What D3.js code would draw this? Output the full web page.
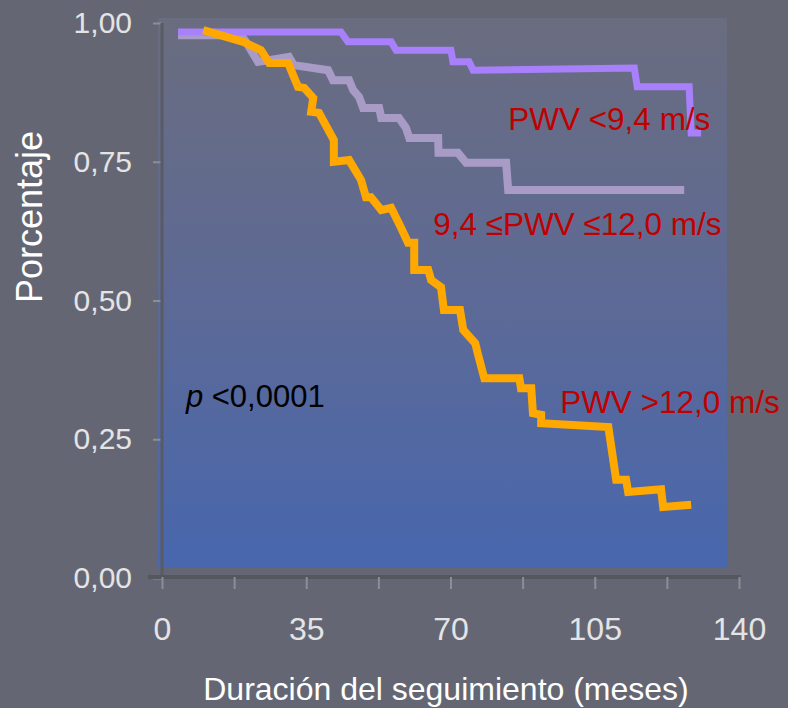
<!DOCTYPE html>
<html>
<head>
<meta charset="utf-8">
<script src="https://cdn.jsdelivr.net/npm/d3@7"></script>
<style>
  html, body { margin: 0; padding: 0; background: #646773; }
  svg { display: block; font-family: "Liberation Sans", Arial, sans-serif; }
</style>
</head>
<body>
<div id="chart"></div>
<script>
// survival curves, [month, proportion]
var lowPwv = [[3.9, 0.984], [43.4, 0.984], [45.1, 0.966], [55.6, 0.966], [56.8, 0.951], [70.1, 0.951],
    [70.6, 0.930], [74.5, 0.930], [75.5, 0.915], [114.6, 0.919], [115.3, 0.885], [127.9, 0.885],
    [128.4, 0.802], [130.8, 0.802]];

var midPwv = [[3.9, 0.978], [19.2, 0.978], [20.4, 0.966], [23.3, 0.930], [30.8, 0.939], [32.0, 0.924],
    [40.3, 0.915], [41.5, 0.897], [45.4, 0.897], [46.4, 0.879], [47.8, 0.867], [48.8, 0.847],
    [52.7, 0.847], [53.2, 0.829], [57.5, 0.829], [59.2, 0.811], [60.0, 0.793], [67.0, 0.793],
    [67.1, 0.766], [71.8, 0.766], [73.8, 0.748], [83.5, 0.748], [84.0, 0.699], [126.7, 0.699]];

var highPwv = [[10.0, 0.987], [19.7, 0.966], [24.0, 0.951], [26.0, 0.928], [30.6, 0.928], [33.0, 0.885],
    [34.5, 0.883], [36.7, 0.865], [36.2, 0.840], [38.1, 0.838], [41.7, 0.789], [41.7, 0.750],
    [45.4, 0.753], [48.3, 0.717], [49.5, 0.686], [50.7, 0.686], [53.2, 0.663], [55.6, 0.667],
    [58.0, 0.631], [59.7, 0.604], [61.2, 0.604], [61.2, 0.555], [64.6, 0.555], [65.3, 0.537],
    [67.7, 0.524], [68.4, 0.483], [72.3, 0.483], [73.1, 0.447], [76.0, 0.423], [76.7, 0.402],
    [78.2, 0.360], [86.7, 0.360], [87.1, 0.342], [89.6, 0.342], [90.0, 0.297], [92.0, 0.294],
    [92.0, 0.279], [108.3, 0.272], [110.2, 0.177], [112.6, 0.177], [113.1, 0.155], [121.1, 0.160],
    [121.6, 0.128], [128.4, 0.132]];

var xTicks = [0, 17.5, 35, 52.5, 70, 87.5, 105, 122.5, 140];
var xLabelTicks = [0, 35, 70, 105, 140];
var yTicks = [0, 0.25, 0.5, 0.75, 1];

var seriesNames = ["PWV <9,4 m/s", "9,4 \u2264PWV \u226412,0 m/s", "PWV >12,0 m/s"];
var pText = "<0,0001";
var xTitle = "Duración del seguimiento (meses)";
var yTitle = "Porcentaje";

draw();

function draw() {
    var width = 788, height = 708;

    var svg = d3.select("#chart").append("svg")
        .attr("width", width)
        .attr("height", height);

    var x = d3.scaleLinear().domain([0, 140]).range([162, 739]);
    var y = d3.scaleLinear().domain([0, 1]).range([578, 23]);

    var fmt = d3.formatLocale({ decimal: ",", thousands: ".", grouping: [3], currency: ["", "€"] });

    // plot background gradient
    var defs = svg.append("defs");
    var grad = defs.append("linearGradient")
        .attr("id", "plotBg")
        .attr("x1", 0).attr("y1", 0).attr("x2", 0).attr("y2", 1);
    grad.append("stop").attr("offset", "0%").attr("stop-color", "#6a6d7f");
    grad.append("stop").attr("offset", "45%").attr("stop-color", "#5f6a93");
    grad.append("stop").attr("offset", "100%").attr("stop-color", "#4867ae");

    svg.append("rect")
        .attr("x", 158).attr("y", 18)
        .attr("width", 727 - 158).attr("height", 567 - 18)
        .style("fill", "url(#plotBg)");

    // y axis
    var yAxis = d3.axisLeft(y)
        .tickValues(yTicks)
        .tickSize(9)
        .tickPadding(21)
        .tickFormat(fmt.format(".2f"));

    var gy = svg.append("g")
        .attr("transform", "translate(162,0)")
        .call(yAxis);
    gy.select(".domain").remove();
    gy.append("line")
        .attr("x1", 0).attr("x2", 0)
        .attr("y1", y(1)).attr("y2", y(0))
        .style("stroke", "#585a64").style("stroke-width", 3);
    gy.selectAll(".tick line").style("stroke", "#8c8e96").style("stroke-width", 2);
    gy.selectAll(".tick text")
        .style("font-size", "30px")
        .style("fill", "#e4e4e6")
        .style("font-family", "'Liberation Sans', Arial, sans-serif");

    // x axis
    var xAxis = d3.axisBottom(x)
        .tickValues(xTicks)
        .tickSize(12)
        .tickSizeOuter(0)
        .tickPadding(28)
        .tickFormat(d => xLabelTicks.indexOf(d) >= 0 ? fmt.format("d")(d) : "");

    var gx = svg.append("g")
        .attr("transform", "translate(0,577)")
        .call(xAxis);
    gx.select(".domain").remove();
    gx.insert("line", ":first-child")
        .attr("x1", 148).attr("x2", 741)
        .attr("y1", 0).attr("y2", 0)
        .style("stroke", "#55575f").style("stroke-width", 4);
    gx.selectAll(".tick line").style("stroke", "#8c8e96").style("stroke-width", 2);
    gx.selectAll(".tick text")
        .style("font-size", "32px")
        .style("fill", "#e4e4e6")
        .style("font-family", "'Liberation Sans', Arial, sans-serif");

    // curves
    var line = d3.line()
        .x(d => x(d[0]))
        .y(d => y(d[1]));

    var curves = [
        { data: midPwv, color: "#a89cc6", w: 8 },
        { data: lowPwv, color: "#a980fc", w: 7 },
        { data: highPwv, color: "#ffa800", w: 8 }
    ];

    svg.append("g")
        .selectAll("path")
        .data(curves)
        .enter().append("path")
        .attr("d", d => line(d.data))
        .style("fill", "none")
        .style("stroke", d => d.color)
        .style("stroke-width", d => d.w)
        .style("stroke-linejoin", "miter");

    // curve labels
    var labelPos = [[84.0, 0.807], [65.8, 0.618], [96.6, 0.297]];
    svg.append("g")
        .selectAll("text")
        .data(seriesNames)
        .enter().append("text")
        .attr("x", (d, i) => x(labelPos[i][0]))
        .attr("y", (d, i) => y(labelPos[i][1]))
        .style("font-size", "31.5px")
        .style("fill", "#c00000")
        .text(d => d);

    // p value
    var pt = svg.append("text")
        .attr("x", x(5.8))
        .attr("y", y(0.308))
        .style("font-size", "31px")
        .style("fill", "#000");
    pt.append("tspan").style("font-style", "italic").text("p");
    pt.append("tspan").text(" " + pText);

    // axis titles
    svg.append("text")
        .attr("x", 446)
        .attr("y", 700)
        .attr("text-anchor", "middle")
        .style("font-size", "32px")
        .style("fill", "#ffffff")
        .text(xTitle);

    svg.append("text")
        .attr("transform", "translate(42,217) rotate(-90)")
        .attr("text-anchor", "middle")
        .style("font-size", "36px")
        .style("fill", "#ffffff")
        .text(yTitle);
}
</script>
</body>
</html>
